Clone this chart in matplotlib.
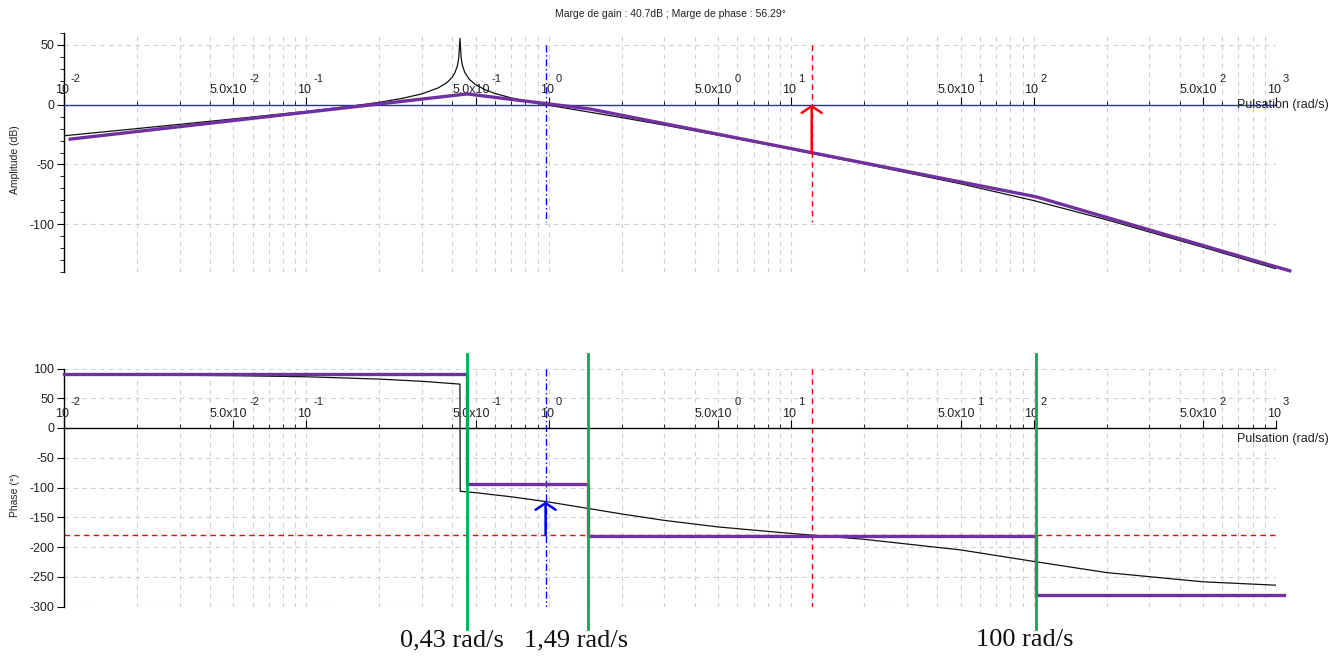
import matplotlib
matplotlib.use("Agg")
import matplotlib.pyplot as plt
from matplotlib.ticker import FixedLocator, NullFormatter

plt.rcParams['font.family'] = ['Liberation Sans', 'DejaVu Sans']
plt.rcParams['axes.unicode_minus'] = False

w_mag = [0.01, 0.02, 0.05, 0.1, 0.15, 0.2, 0.25, 0.3, 0.35, 0.38, 0.4, 0.41, 0.42,
         0.425, 0.43, 0.435, 0.44, 0.45, 0.47, 0.5, 0.55, 0.6, 0.7, 0.8, 1, 1.5, 2,
         3, 5, 10, 20, 50, 100, 200, 500, 1000]
mag_db = [-26.0, -20.0, -11.9, -5.6, -1.4, 2.0, 5.4, 9.1, 14.1, 18.5, 23.1, 26.8, 32.9,
          38.9, 55.5, 39.0, 33.0, 27.1, 21.2, 16.6, 12.2, 9.4, 5.7, 3.1, -0.5, -6.5, -10.8,
          -17.1, -25.5, -37.3, -49.5, -66.2, -80.2, -96.3, -119.3, -137.3]

w_ph = [0.01, 0.02, 0.05, 0.1, 0.2, 0.3, 0.4, 0.43, 0.431, 0.5, 0.7, 1, 1.5, 2, 3, 5,
        10, 20, 50, 100, 200, 500, 1000]
phase = [89.6, 89.2, 88.0, 86.1, 82.2, 78.5, 74.7, 73.7, -106.3, -108.8, -115.6, -124.4,
         -136.1, -144.5, -155.3, -166.3, -177.2, -187.1, -204.9, -224.2, -243.0, -258.5, -264.2]

# traces asymptotiques (violet)
w_asym_mag = [0.0106, 0.46, 1.47, 102, 1140]
asym_mag = [-28.8, 9.0, -3.5, -77.0, -139.0]
w_asym_ph = [0.01, 0.46, 0.46, 1.45, 1.45, 102, 102, 1084]
asym_ph = [90, 90, -94, -94, -182, -182, -280, -280]

# cassures (vert)
w_breaks = [0.46, 1.45, 102]
break_labels = ["0,43 rad/s", "1,49 rad/s", "100 rad/s"]

# marges
w_gain_cross = 0.97
w_phase_cross = 12.15
gain_margin = 40.7
phase_margin = 56.29

PURPLE = '#7030A0'
GREEN = '#00B050'
TXT = '#222222'

fig = plt.figure(figsize=(13.42, 6.57), dpi=100)
ax1 = fig.add_axes([64 / 1342, 1 - 272 / 657, 1212 / 1342, 239 / 657])
ax2 = fig.add_axes([64 / 1342, 1 - 606.5 / 657, 1212 / 1342, 238 / 657])

# graduations log facon Scilab : 10^k et 5.0x10^k
major_x = []
minor_x = []
for k in range(-2, 3):
    major_x += [10.0 ** k, 5 * 10.0 ** k]
    minor_x += [m * 10.0 ** k for m in (2, 3, 4, 6, 7, 8, 9)]
major_x.append(1000.0)


def style_axis(ax, ylim, yticks, yminor=None):
    ax.set_xscale('log')
    ax.set_xlim(0.01, 1000)
    ax.set_ylim(*ylim)
    for s in ('bottom', 'right'):
        ax.spines[s].set_visible(False)
    ax.spines['top'].set_position(('data', 0))
    ax.spines['top'].set_linewidth(1.0)
    ax.spines['left'].set_linewidth(1.0)
    ax.xaxis.set_ticks_position('top')
    ax.xaxis.set_major_locator(FixedLocator(major_x))
    ax.xaxis.set_major_formatter(NullFormatter())
    ax.xaxis.set_minor_locator(FixedLocator(minor_x))
    ax.xaxis.set_minor_formatter(NullFormatter())
    ax.tick_params(axis='x', which='major', direction='out', length=6)
    ax.tick_params(axis='x', which='minor', direction='out', length=3)
    ax.set_yticks(yticks)
    if yminor is not None:
        ax.set_yticks(yminor, minor=True)
        ax.tick_params(axis='y', which='minor', length=3, direction='out')
    ax.tick_params(axis='y', which='major', length=5, direction='out', labelsize=9,
                   labelcolor=TXT, pad=2)
    ax.grid(True, which='both', axis='x', color='#cfcfcf', linestyle=(0, (4, 4)), linewidth=0.8)
    ax.grid(True, which='major', axis='y', color='#cfcfcf', linestyle=(0, (4, 4)), linewidth=0.8)
    ax.set_axisbelow(True)
    ax.patch.set_alpha(0)

    # etiquettes au-dessus de l'axe, exposant separe
    for k in range(-2, 4):
        for mant, base, dx_base, dx_exp in ((1, '10', -1.5, 5), (5, '5.0x10', -3.5, 11.5)):
            if k == 3 and mant == 5:
                continue
            xv = mant * 10.0 ** k
            ax.annotate(base, (xv, 0), xytext=(dx_base, 6), textcoords='offset points',
                        ha='center', va='bottom', fontsize=9, color=TXT, annotation_clip=False)
            ax.annotate(str(k), (xv, 0), xytext=(dx_exp, 15), textcoords='offset points',
                        ha='left', va='bottom', fontsize=8, color=TXT, annotation_clip=False)


style_axis(ax1, (-140, 60), [-100, -50, 0, 50], list(range(-140, 61, 10)))
style_axis(ax2, (-300, 100), list(range(-300, 101, 50)))

arrow = '->,head_length=0.3,head_width=0.45'

# --- amplitude ---
ax1.spines['top'].set_color('#2a2ad0')
ax1.plot(w_mag, mag_db, color='#111111', lw=0.9, zorder=3)
ax1.plot(w_asym_mag, asym_mag, color=PURPLE, lw=2.4, zorder=4, clip_on=False)
ax1.plot([w_gain_cross, w_gain_cross], [50, -98], color='#0000ff', lw=1.0,
         linestyle=(0, (5, 2, 1, 2)), zorder=2)
ax1.plot([w_phase_cross, w_phase_cross], [50, -98], color='#ff0000', lw=1.0,
         linestyle=(0, (4, 3)), zorder=2)
ax1.annotate('', xy=(w_phase_cross, 0), xytext=(w_phase_cross, -gain_margin),
             arrowprops=dict(arrowstyle=arrow, color='#ff0000', lw=1.8, mutation_scale=16,
                             shrinkA=0, shrinkB=0), zorder=5)
ax1.text(690, 0, 'Pulsation (rad/s)', fontsize=9, ha='left', va='center', color=TXT,
         clip_on=False)

# --- phase ---
ax2.plot(w_ph, phase, color='#111111', lw=0.9, zorder=3)
ax2.plot(w_asym_ph, asym_ph, color=PURPLE, lw=2.4, zorder=4, clip_on=False)
ax2.plot([0.01, 1000], [-180, -180], color='#ff0000', lw=1.0, linestyle=(0, (4, 3)), zorder=2)
ax2.plot([w_gain_cross, w_gain_cross], [100, -300], color='#0000ff', lw=1.0,
         linestyle=(0, (5, 2, 1, 2)), zorder=2)
ax2.plot([w_phase_cross, w_phase_cross], [100, -300], color='#ff0000', lw=1.0,
         linestyle=(0, (4, 3)), zorder=2)
ax2.annotate('', xy=(w_gain_cross, -180 + phase_margin), xytext=(w_gain_cross, -180),
             arrowprops=dict(arrowstyle=arrow, color='#0000ff', lw=1.8, mutation_scale=16,
                             shrinkA=0, shrinkB=0), zorder=5)
for wb in w_breaks:
    ax2.plot([wb, wb], [124, -337], color=GREEN, lw=2.0, zorder=5, clip_on=False)
ax2.text(690, -19, 'Pulsation (rad/s)', fontsize=9, ha='left', va='center', color=TXT,
         clip_on=False)

# textes
fig.text(670 / 1342, 1 - 14 / 657, 'Marge de gain : %.1fdB ; Marge de phase : %.2f°'
         % (gain_margin, phase_margin), fontsize=7.5, ha='center', va='center', color=TXT)
fig.text(15 / 1342, 1 - 160 / 657, 'Amplitude (dB)', rotation=90, fontsize=7.5,
         ha='center', va='center', color=TXT)
fig.text(15 / 1342, 1 - 495 / 657, 'Phase (°)', rotation=90, fontsize=7.5,
         ha='center', va='center', color=TXT)
for xc, lab in zip([452, 576, 1025], break_labels):
    fig.text(xc / 1342, 1 - 640 / 657, lab, fontsize=19, ha='center', va='center',
             family=['Liberation Serif', 'DejaVu Serif'], color='#111111')

fig.savefig('out.png', dpi=100)
